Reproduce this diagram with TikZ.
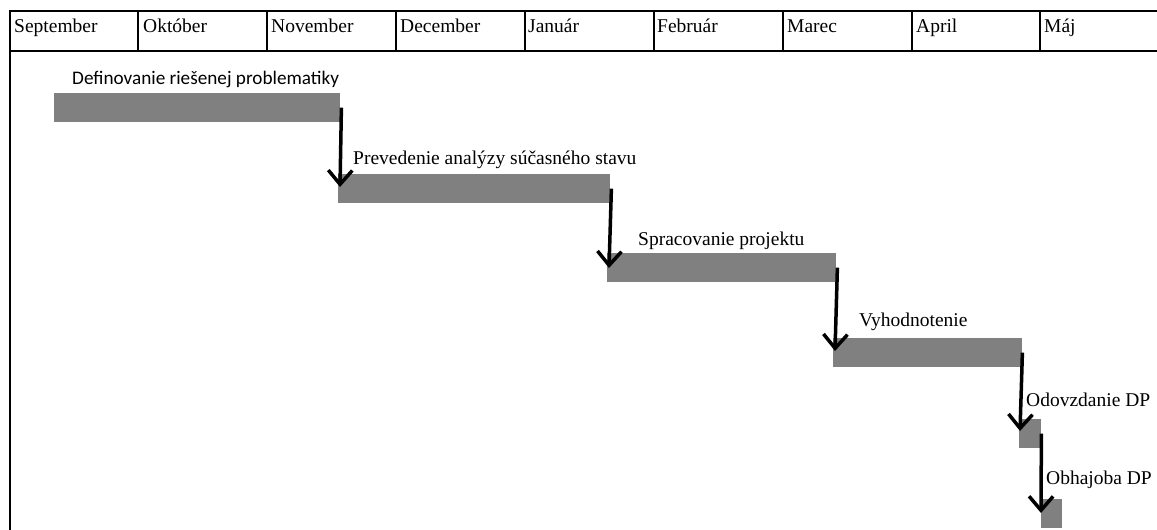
\documentclass[tikz,border=0pt]{standalone}
\usepackage{fontspec}
\setmainfont{Liberation Serif}
\newfontfamily\calibri{Carlito}
\usetikzlibrary{arrows.meta}
\definecolor{barfill}{RGB}{128,128,128}
\begin{document}
\begin{tikzpicture}[x=1pt,y=-1pt,
  grid/.style={line width=2pt,black},
  month/.style={anchor=base west,inner sep=0pt,font=\fontsize{19.5}{22}\selectfont},
  task/.style={anchor=base west,inner sep=0pt,font=\fontsize{19.5}{22}\selectfont},
  bar/.style={fill=barfill,draw=none,anchor=north west,inner sep=0pt,minimum height=29pt},
  link/.style={line width=3.5pt,-{Straight Barb[length=14pt,width=24pt,line width=3.5pt]}}]
\clip (0,0) rectangle (1157,530);
% month header and left frame
\draw[grid] (9.5,531) -- (9.5,11) -- (1160,11);
\draw[grid] (9.5,51) -- (1160,51);
\foreach \x in {138,267,396,525,654,783,912,1040}
  \draw[grid] (\x,11) -- (\x,51);
\foreach \name/\x [count=\i] in {September/14,Október/143,November/271,December/400,%
  Január/528,Február/657,Marec/787,April/916,Máj/1044}
  \node[month] (m\i) at (\x,32) {\name};
% task bars
\node[bar,minimum width=286pt] (b1) at (54,93) {};
\node[bar,minimum width=272pt] (b2) at (338,174) {};
\node[bar,minimum width=229pt] (b3) at (607,253) {};
\node[bar,minimum width=189pt] (b4) at (833,338) {};
\node[bar,minimum width=22pt]  (b5) at (1019,419) {};
\node[bar,minimum width=21pt]  (b6) at (1041,499) {};
% task labels
\node[task,font=\calibri\fontsize{19.2}{22}\selectfont] (t1) at (72,84) {Definovanie riešenej problematiky};
\node[task] (t2) at (353,164) {Prevedenie analýzy súčasného stavu};
\node[task] (t3) at (638,245) {Spracovanie projektu};
\node[task] (t4) at (859,326) {Vyhodnotenie};
\node[task] (t5) at (1026,406) {Odovzdanie DP};
\node[task] (t6) at (1046,484) {Obhajoba DP};
% dependencies
\draw[link] ([xshift=1pt]b1.east) -- ([shift={(2,13)}]b2.north west);
\draw[link] ([xshift=1pt]b2.east) -- ([shift={(2,15)}]b3.north west);
\draw[link] ([xshift=1pt]b3.east) -- ([shift={(2,13)}]b4.north west);
\draw[link] ([xshift=0pt]b4.east) -- ([shift={(1,12)}]b5.north west);
\draw[link] ([xshift=0pt]b5.east) -- ([shift={(0,14)}]b6.north west);
\end{tikzpicture}
\end{document}
